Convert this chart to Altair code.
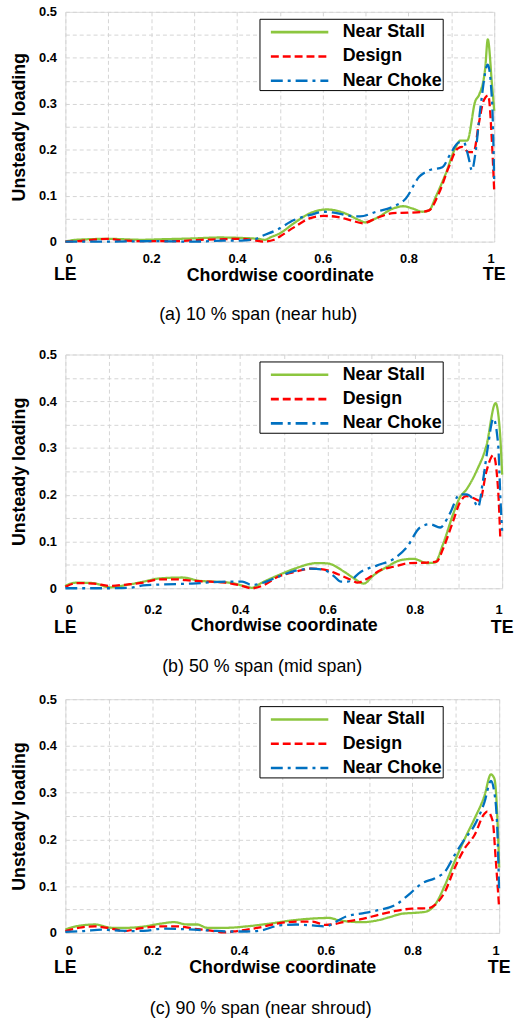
import altair as alt
import pandas as pd

SERIES = ["Near Stall", "Design", "Near Choke"]
COLORS = ["#8cc63f", "#ff0000", "#0070c0"]
DASHES = [[1, 0], [8, 4], [12, 5, 3, 5]]
CAPTIONS = ["(a) 10 % span (near hub)", "(b) 50 % span (mid span)", "(c) 90 % span (near shroud)"]
X_TICKS = [round(i * 0.1, 1) for i in range(11)]
Y_TICKS = [round(i * 0.05, 2) for i in range(11)]
EDGE_X = [0, 1]
EDGE_LABELS = ["LE", "TE"]

# ---- (a) 10 % span ----
a_stall_x = [0, 0.025, 0.1, 0.18, 0.22, 0.3, 0.36, 0.41, 0.45, 0.465, 0.48, 0.5, 0.533, 0.571, 0.61, 0.648, 0.687, 0.698, 0.725, 0.764, 0.787, 0.81, 0.833, 0.848, 0.864, 0.887, 0.91, 0.921, 0.937, 0.956, 0.965, 0.979, 0.985, 0.995, 1.0]
a_stall_y = [0, 0.004, 0.006, 0.004, 0.005, 0.007, 0.009, 0.008, 0.006, 0.004, 0.01, 0.018, 0.04, 0.062, 0.070, 0.063, 0.046, 0.042, 0.051, 0.072, 0.077, 0.072, 0.065, 0.068, 0.098, 0.148, 0.205, 0.22, 0.22, 0.306, 0.32, 0.377, 0.44, 0.34, 0.285]
a_design_x = [0, 0.03, 0.062, 0.1, 0.14, 0.2, 0.256, 0.317, 0.356, 0.41, 0.44, 0.463, 0.487, 0.5, 0.533, 0.571, 0.602, 0.633, 0.664, 0.694, 0.725, 0.764, 0.802, 0.833, 0.848, 0.871, 0.894, 0.914, 0.925, 0.94, 0.952, 0.964, 0.975, 0.986, 0.995, 1.0]
a_design_y = [0, 0.001, 0.004, 0.006, 0.002, 0.001, 0.001, 0.004, 0.005, 0.006, 0.003, 0.0, 0.004, 0.011, 0.031, 0.051, 0.056, 0.054, 0.047, 0.040, 0.051, 0.062, 0.063, 0.065, 0.068, 0.105, 0.162, 0.202, 0.206, 0.195, 0.195, 0.256, 0.306, 0.318, 0.212, 0.11]
a_choke_x = [0, 0.1, 0.2, 0.3, 0.37, 0.41, 0.445, 0.456, 0.494, 0.533, 0.571, 0.602, 0.633, 0.664, 0.687, 0.725, 0.764, 0.794, 0.825, 0.848, 0.879, 0.898, 0.918, 0.929, 0.94, 0.948, 0.956, 0.968, 0.985, 0.995, 1.0]
a_choke_y = [0, 0, 0.001, 0, 0.002, 0.002, 0.006, 0.011, 0.026, 0.047, 0.058, 0.065, 0.062, 0.056, 0.055, 0.065, 0.076, 0.094, 0.141, 0.155, 0.162, 0.191, 0.216, 0.216, 0.184, 0.155, 0.191, 0.292, 0.385, 0.306, 0.133]

# ---- (b) 50 % span ----
b_stall_x = [0, 0.004, 0.026, 0.064, 0.102, 0.14, 0.178, 0.215, 0.268, 0.306, 0.344, 0.382, 0.412, 0.427, 0.45, 0.488, 0.525, 0.578, 0.601, 0.639, 0.661, 0.683, 0.706, 0.737, 0.767, 0.797, 0.828, 0.846, 0.865, 0.888, 0.903, 0.918, 0.941, 0.964, 0.985, 0.995, 1.0]
b_stall_y = [0.004, 0.007, 0.012, 0.011, 0.002, 0.007, 0.014, 0.021, 0.023, 0.016, 0.014, 0.011, 0.004, 0.001, 0.012, 0.028, 0.042, 0.054, 0.053, 0.035, 0.021, 0.01, 0.028, 0.046, 0.06, 0.063, 0.054, 0.055, 0.095, 0.159, 0.194, 0.211, 0.25, 0.305, 0.396, 0.334, 0.243]
b_design_x = [0, 0.026, 0.064, 0.102, 0.14, 0.178, 0.215, 0.253, 0.29, 0.33, 0.367, 0.397, 0.427, 0.45, 0.488, 0.525, 0.563, 0.593, 0.624, 0.654, 0.669, 0.692, 0.722, 0.752, 0.79, 0.828, 0.85, 0.865, 0.888, 0.903, 0.918, 0.934, 0.949, 0.964, 0.98, 0.991, 0.996]
b_design_y = [0.003, 0.011, 0.010, 0.005, 0.008, 0.012, 0.019, 0.019, 0.016, 0.014, 0.012, 0.007, 0.0, 0.005, 0.025, 0.035, 0.042, 0.04, 0.03, 0.018, 0.012, 0.021, 0.039, 0.046, 0.054, 0.055, 0.057, 0.085, 0.144, 0.183, 0.197, 0.193, 0.187, 0.25, 0.285, 0.208, 0.102]
b_choke_x = [0, 0.064, 0.102, 0.148, 0.178, 0.215, 0.29, 0.367, 0.405, 0.427, 0.45, 0.488, 0.525, 0.563, 0.593, 0.616, 0.631, 0.646, 0.676, 0.714, 0.752, 0.782, 0.812, 0.835, 0.858, 0.88, 0.903, 0.918, 0.934, 0.945, 0.956, 0.967, 0.98, 0.991, 0.996, 1.0]
b_choke_y = [0.0, 0.0, 0.0, 0.001, 0.006, 0.008, 0.01, 0.014, 0.014, 0.007, 0.011, 0.025, 0.037, 0.042, 0.039, 0.025, 0.014, 0.014, 0.035, 0.049, 0.063, 0.088, 0.13, 0.137, 0.13, 0.159, 0.201, 0.201, 0.19, 0.174, 0.229, 0.3, 0.363, 0.306, 0.194, 0.123]

# ---- (c) 90 % span ----
c_stall_x = [0, 0.015, 0.068, 0.107, 0.145, 0.183, 0.221, 0.251, 0.281, 0.304, 0.327, 0.373, 0.418, 0.464, 0.525, 0.608, 0.631, 0.685, 0.715, 0.745, 0.776, 0.806, 0.829, 0.852, 0.875, 0.897, 0.92, 0.943, 0.966, 0.981, 0.989, 0.996, 1.0]
c_stall_y = [0.007, 0.012, 0.018, 0.011, 0.011, 0.014, 0.02, 0.023, 0.018, 0.018, 0.011, 0.011, 0.014, 0.019, 0.027, 0.032, 0.027, 0.023, 0.026, 0.033, 0.041, 0.043, 0.045, 0.06, 0.102, 0.152, 0.2, 0.244, 0.293, 0.339, 0.33, 0.244, 0.14]
c_design_x = [0, 0.038, 0.068, 0.107, 0.137, 0.167, 0.221, 0.259, 0.297, 0.335, 0.365, 0.396, 0.449, 0.494, 0.532, 0.57, 0.6, 0.647, 0.685, 0.723, 0.761, 0.799, 0.837, 0.852, 0.875, 0.897, 0.92, 0.943, 0.966, 0.973, 0.985, 0.992, 1.0]
c_design_y = [0.004, 0.012, 0.014, 0.009, 0.004, 0.009, 0.014, 0.014, 0.009, 0.005, 0.001, 0.004, 0.012, 0.021, 0.024, 0.024, 0.017, 0.024, 0.03, 0.039, 0.047, 0.052, 0.053, 0.06, 0.088, 0.138, 0.18, 0.209, 0.255, 0.26, 0.24, 0.159, 0.053]
c_choke_x = [0, 0.043, 0.084, 0.122, 0.16, 0.19, 0.221, 0.297, 0.335, 0.373, 0.418, 0.449, 0.494, 0.532, 0.57, 0.6, 0.624, 0.647, 0.685, 0.723, 0.761, 0.799, 0.822, 0.852, 0.875, 0.897, 0.92, 0.943, 0.966, 0.981, 0.989, 0.996, 1.0]
c_choke_y = [0.002, 0.004, 0.007, 0.005, 0.004, 0.005, 0.009, 0.007, 0.005, 0.003, 0.003, 0.005, 0.016, 0.018, 0.016, 0.014, 0.024, 0.035, 0.042, 0.049, 0.06, 0.088, 0.106, 0.117, 0.131, 0.166, 0.2, 0.23, 0.279, 0.325, 0.3, 0.216, 0.088]

FONT = "Arial, Liberation Sans, sans-serif"


def frame(curves):
    rows = []
    for name, xs, ys in curves:
        for i, (xv, yv) in enumerate(zip(xs, ys)):
            rows.append({"series": name, "x": xv, "y": yv, "order": i})
    return pd.DataFrame(rows)


def legend():
    return alt.Legend(
        orient="none", legendX=196, legendY=7, title=None, titlePadding=0,
        symbolType="M-2.4167,0H2.4167", symbolSize=576, symbolStrokeWidth=2.6, symbolOffset=27,
        labelFont=FONT, labelFontSize=18, labelFontWeight="bold", labelColor="black",
        labelOffset=30, labelLimit=300, rowPadding=1.5, padding=0,
        labelExpr="datum.label + '\u00a0\u00a0\u00a0\u00a0\u00a0'",
        strokeColor="black", fillColor="white",
    )


def x_enc(label_pad):
    return alt.X("x:Q", scale=alt.Scale(domain=[0, 1], nice=False, zero=False),
                 axis=alt.Axis(values=X_TICKS, grid=True, ticks=False, domain=False,
                               labelExpr="round(datum.value*10) % 2 == 0 ? format(datum.value, '~g') : ''",
                               labelFont=FONT, labelFontSize=13, labelFontWeight="bold", labelColor="black",
                               labelPadding=label_pad, title="Chordwise coordinate", titleFont=FONT,
                               titleFontSize=18, titleFontWeight="bold", titleColor="black",
                               titlePadding=1, gridDash=[4, 3], gridColor="#d4d4d4"))


def panel(curves, caption, w, h, label_pad, edge_off, cap_off):
    df = frame(curves)
    lines = alt.Chart(df).mark_line(strokeWidth=2.3, interpolate="monotone").encode(
        x=x_enc(label_pad),
        y=alt.Y("y:Q", scale=alt.Scale(domain=[0, 0.5], nice=False),
                axis=alt.Axis(values=Y_TICKS, grid=True, ticks=False, domain=False,
                              labelExpr="round(datum.value*100) % 10 == 0 ? format(datum.value, '~g') : ''",
                              labelFont=FONT, labelFontSize=13, labelFontWeight="bold", labelColor="black",
                              labelPadding=9, title="Unsteady loading", titleFont=FONT,
                              titleFontSize=18, titleFontWeight="bold", titleColor="black",
                              titlePadding=10, gridDash=[4, 3], gridColor="#d4d4d4")),
        color=alt.Color("series:N", scale=alt.Scale(domain=SERIES, range=COLORS), legend=legend()),
        strokeDash=alt.StrokeDash("series:N", scale=alt.Scale(domain=SERIES, range=DASHES), legend=legend()),
        order="order:Q",
    )
    edges = alt.Chart(pd.DataFrame({"x": EDGE_X, "t": EDGE_LABELS})).mark_text(
        font=FONT, fontSize=18, fontWeight="bold", baseline="middle", align="center", color="black"
    ).encode(x=x_enc(label_pad), y=alt.value(h + edge_off), text="t:N")
    return alt.layer(lines, edges).properties(
        width=w, height=h,
        title=alt.TitleParams(caption, orient="bottom", anchor="middle", frame="bounds",
                              font=FONT, fontSize=18, fontWeight="normal", color="black", offset=cap_off),
    )


p1 = panel([(SERIES[0], a_stall_x, a_stall_y), (SERIES[1], a_design_x, a_design_y),
            (SERIES[2], a_choke_x, a_choke_y)], CAPTIONS[0], 433, 232, 11, 34, 22)
p2 = panel([(SERIES[0], b_stall_x, b_stall_y), (SERIES[1], b_design_x, b_design_y),
            (SERIES[2], b_choke_x, b_choke_y)], CAPTIONS[1], 441, 236, 15, 40, 22)
p3 = panel([(SERIES[0], c_stall_x, c_stall_y), (SERIES[1], c_design_x, c_design_y),
            (SERIES[2], c_choke_x, c_choke_y)], CAPTIONS[2], 438, 236, 12, 35, 24)

top = alt.vconcat(p1, p2, spacing=23).resolve_scale(
    color="independent", strokeDash="independent", x="independent", y="independent"
)
chart = alt.vconcat(top, p3, spacing=15).resolve_scale(
    color="independent", strokeDash="independent", x="independent", y="independent"
).properties(
    padding={"left": 10, "top": 0, "right": 0, "bottom": 0}
).configure_view(
    stroke="#8c8c8c", strokeWidth=1.5
).configure_legend(
    strokeWidth=2
).configure(background="white")

chart.save("out.html", embed_options={"renderer": "svg", "actions": False})
